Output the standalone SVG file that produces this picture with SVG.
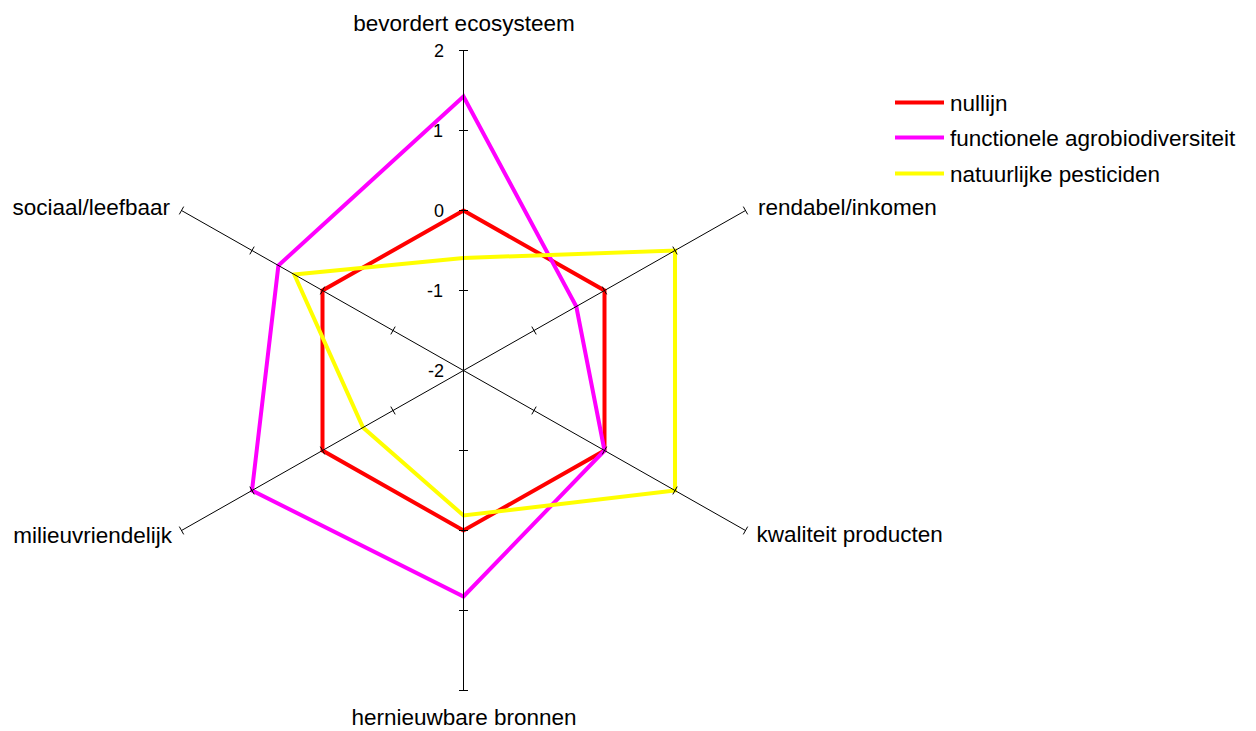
<svg xmlns="http://www.w3.org/2000/svg" width="1256" height="731" viewBox="0 0 1256 731">
<style>
text{font-family:"Liberation Sans",Arial,sans-serif;fill:#000}
.lbl{font-size:22.5px}
.tk{font-size:18px;text-anchor:end}
.ax{stroke:#000;stroke-width:1;fill:none}
.s{fill:none;stroke-width:4;stroke-linejoin:miter}
.red{stroke:#ff0000}
.mag{stroke:#ff00ff}
.yel{stroke:#ffff00}
</style>
<rect width="1256" height="731" fill="#fff"/>
<g id="series">
<polygon class="s red" points="463.5,210.5 604.5,290.5 604.5,450.5 463.5,530.5 322.5,450.5 322.5,290.5"/>
<polygon class="s mag" points="463.5,96.5 576.3,306.5 604.5,450.5 463.5,596.5 252,490.5 278.4,265.5"/>
<polygon class="s yel" points="463.5,258 675,250.5 675,490.5 463.5,515.5 363,427.5 294.3,274.5"/>
</g>
<g id="axes" class="ax">
<line x1="463.5" y1="370.5" x2="463.5" y2="50.5"/>
<line x1="463.5" y1="370.5" x2="463.5" y2="690.5"/>
<line x1="463.5" y1="370.5" x2="745.5" y2="210.5"/>
<line x1="463.5" y1="370.5" x2="745.5" y2="530.5"/>
<line x1="463.5" y1="370.5" x2="181.5" y2="210.5"/>
<line x1="463.5" y1="370.5" x2="181.5" y2="530.5"/>
<path d="M459,50.5h9M459,130.5h9M459,210.5h9M459,290.5h9M459,450.5h9M459,530.5h9M459,610.5h9M459,690.5h9"/>
<path d="M531.8,326.6l4.4,7.8M602.3,286.6l4.4,7.8M672.8,246.6l4.4,7.8M743.3,206.6l4.4,7.8"/>
<path d="M395.2,326.6l-4.4,7.8M324.7,286.6l-4.4,7.8M254.2,246.6l-4.4,7.8M183.7,206.6l-4.4,7.8"/>
<path d="M536.2,406.6l-4.4,7.8M606.7,446.6l-4.4,7.8M677.2,486.6l-4.4,7.8M747.7,526.6l-4.4,7.8"/>
<path d="M390.8,406.6l4.4,7.8M320.3,446.6l4.4,7.8M249.8,486.6l4.4,7.8M179.3,526.6l4.4,7.8"/>
</g>
<g id="ticklabels">
<text class="tk" x="444" y="57">2</text>
<text class="tk" x="443" y="137">1</text>
<text class="tk" x="444" y="217">0</text>
<text class="tk" x="443" y="297">-1</text>
<text class="tk" x="444" y="377">-2</text>
</g>
<g id="axis-labels" class="lbl">
<text class="lbl" x="464" y="31" text-anchor="middle">bevordert ecosysteem</text>
<text class="lbl" x="758" y="215">rendabel/inkomen</text>
<text class="lbl" x="756.5" y="542">kwaliteit producten</text>
<text class="lbl" x="464" y="725" text-anchor="middle">hernieuwbare bronnen</text>
<text class="lbl" x="172" y="543" text-anchor="end">milieuvriendelijk</text>
<text class="lbl" x="170" y="215" text-anchor="end">sociaal/leefbaar</text>
</g>
<g id="legend">
<line class="s red" x1="895" y1="102.5" x2="944" y2="102.5"/>
<text class="lbl" x="950" y="111">nullijn</text>
<line class="s mag" x1="895" y1="137.5" x2="944" y2="137.5"/>
<text class="lbl" x="950" y="146">functionele agrobiodiversiteit</text>
<line class="s yel" x1="895" y1="173.5" x2="944" y2="173.5"/>
<text class="lbl" x="950" y="182">natuurlijke pesticiden</text>
</g>
</svg>
